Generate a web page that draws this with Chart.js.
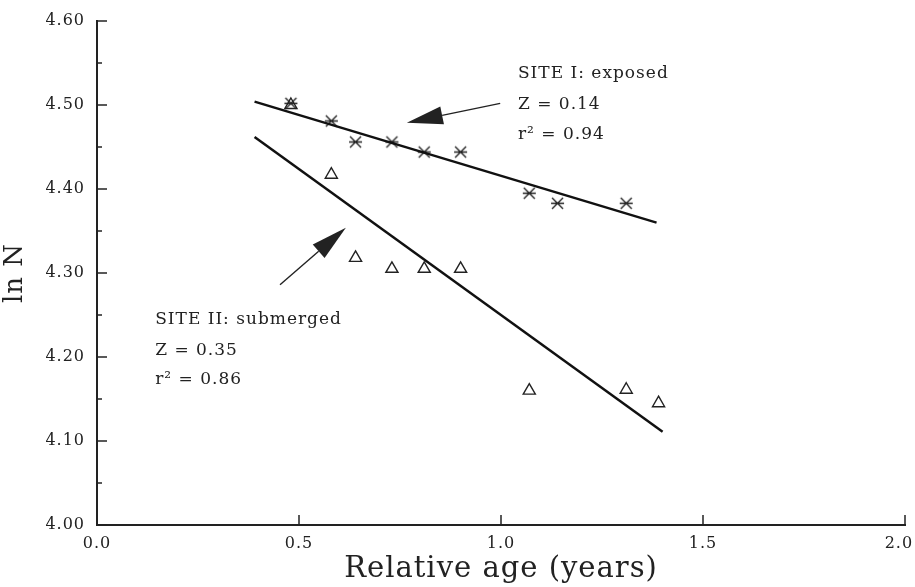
<!DOCTYPE html>
<html>
<head>
<meta charset="utf-8">
<script src="https://cdn.jsdelivr.net/npm/chart.js@4.4.1/dist/chart.umd.min.js"></script>
<style>
  html, body { margin: 0; padding: 0; background: #fff; }
  #wrap { width: 915px; height: 587px; }
</style>
</head>
<body>
<div id="wrap"><canvas id="chart"></canvas></div>
<script>
// values
const siteIx = [0.48, 0.58, 0.64, 0.73, 0.81, 0.90, 1.07, 1.14, 1.31];
const siteIy = [4.502, 4.481, 4.456, 4.456, 4.444, 4.444, 4.395, 4.383, 4.383];
const siteIIx = [0.48, 0.58, 0.64, 0.73, 0.81, 0.90, 1.07, 1.31, 1.39];
const siteIIy = [4.500, 4.417, 4.318, 4.305, 4.305, 4.305, 4.160, 4.161, 4.145];

// regression lines (end points)
const fitIx = [0.39, 1.385];
const fitIy = [4.504, 4.360];
const fitIIx = [0.39, 1.40];
const fitIIy = [4.462, 4.111];

const xTicks = [0.0, 0.5, 1.0, 1.5, 2.0];
const yTicks = [4.00, 4.10, 4.20, 4.30, 4.40, 4.50, 4.60];

const labelI = ["SITE I: exposed", "Z = 0.14", "r\u00b2 = 0.94"];
const labelII = ["SITE II: submerged", "Z = 0.35", "r\u00b2 = 0.86"];

const ink = "#222";

function toPoints(xs, ys) {
  return xs.map((x, i) => ({ x: x, y: ys[i] }));
}

// asterisk-like marker: an X with a horizontal bar
function makeStar() {
  const c = document.createElement("canvas");
  c.width = 15; c.height = 15;
  const g = c.getContext("2d");
  g.strokeStyle = "#222";
  g.lineWidth = 1.4;
  g.beginPath();
  g.moveTo(2, 2); g.lineTo(13, 13);
  g.moveTo(13, 2); g.lineTo(2, 13);
  g.moveTo(1, 7.5); g.lineTo(14, 7.5);
  g.stroke();
  return c;
}

function arrow(ctx, x1, y1, x2, y2, headLen, headW) {
  const ang = Math.atan2(y2 - y1, x2 - x1);
  const bx = x2 - headLen * Math.cos(ang);
  const by = y2 - headLen * Math.sin(ang);
  ctx.beginPath();
  ctx.moveTo(x1, y1);
  ctx.lineTo(bx, by);
  ctx.stroke();
  ctx.beginPath();
  ctx.moveTo(x2, y2);
  ctx.lineTo(bx + headW / 2 * Math.sin(ang), by - headW / 2 * Math.cos(ang));
  ctx.lineTo(bx - headW / 2 * Math.sin(ang), by + headW / 2 * Math.cos(ang));
  ctx.closePath();
  ctx.fill();
}

const spacing = {
  id: "spacing",
  beforeUpdate(chart) { chart.ctx.letterSpacing = "1px"; },
  beforeDraw(chart) { chart.ctx.letterSpacing = "1px"; }
};

const extras = {
  id: "extras",
  afterDraw(chart) {
    const ctx = chart.ctx;
    const xs = chart.scales.x, ys = chart.scales.y;
    const left = chart.chartArea.left, bottom = chart.chartArea.bottom;
    ctx.save();
    ctx.strokeStyle = ink;
    ctx.fillStyle = ink;
    ctx.lineWidth = 1.5;

    // inward ticks on y (major every 0.1, minor every 0.05)
    for (let k = 0; k <= 12; k++) {
      const py = ys.getPixelForValue(4 + k * 0.05);
      const len = k % 2 === 0 ? 10 : 5;
      ctx.beginPath();
      ctx.moveTo(left, py);
      ctx.lineTo(left + len, py);
      ctx.stroke();
    }
    // inward ticks on x
    xTicks.slice(1).forEach(v => {
      const px = xs.getPixelForValue(v);
      ctx.beginPath();
      ctx.moveTo(px, bottom);
      ctx.lineTo(px, bottom - 10);
      ctx.stroke();
    });

    // arrows
    ctx.lineWidth = 1.4;
    arrow(ctx, xs.getPixelForValue(0.998), ys.getPixelForValue(4.502),
      xs.getPixelForValue(0.767), ys.getPixelForValue(4.479), 36, 18);
    arrow(ctx, xs.getPixelForValue(0.453), ys.getPixelForValue(4.286),
      xs.getPixelForValue(0.616), ys.getPixelForValue(4.354), 36, 18);

    // annotation text
    ctx.letterSpacing = "1px";
    ctx.font = "17px 'DejaVu Serif'";
    ctx.textBaseline = "middle";
    ctx.textAlign = "left";
    const yI = [4.538, 4.500, 4.465];
    labelI.forEach((t, i) => {
      ctx.fillText(t, xs.getPixelForValue(1.042), ys.getPixelForValue(yI[i]));
    });
    const yII = [4.244, 4.208, 4.173];
    labelII.forEach((t, i) => {
      ctx.fillText(t, xs.getPixelForValue(0.144), ys.getPixelForValue(yII[i]));
    });
    ctx.restore();
  }
};

Chart.defaults.font.family = "'DejaVu Serif'";
Chart.defaults.color = ink;

const ctx = document.getElementById("chart").getContext("2d");

new Chart(ctx, {
  type: "scatter",
  data: {
    datasets: [
      {
        label: "Site I fit",
        type: "line",
        data: toPoints(fitIx, fitIy),
        borderColor: "#111",
        borderWidth: 2.5,
        pointRadius: 0,
        fill: false
      },
      {
        label: "Site II fit",
        type: "line",
        data: toPoints(fitIIx, fitIIy),
        borderColor: "#111",
        borderWidth: 2.5,
        pointRadius: 0,
        fill: false
      },
      {
        label: "Site I: exposed",
        data: toPoints(siteIx, siteIy),
        pointStyle: makeStar(),
        pointRadius: 7
      },
      {
        label: "Site II: submerged",
        data: toPoints(siteIIx, siteIIy),
        pointStyle: "triangle",
        pointRadius: 7,
        borderColor: "#222",
        borderWidth: 1.4,
        backgroundColor: "rgba(0,0,0,0)"
      }
    ]
  },
  options: {
    responsive: true,
    maintainAspectRatio: false,
    animation: false,
    layout: { padding: { top: 21, right: 10, left: 0, bottom: 0 } },
    plugins: {
      legend: { display: false },
      tooltip: { enabled: false }
    },
    scales: {
      x: {
        type: "linear",
        min: 0,
        max: 2,
        afterBuildTicks: s => { s.ticks = xTicks.map(v => ({ value: v })); },
        afterFit: s => { s.height = 62; s.paddingLeft = 0; s.paddingRight = 0; },
        grid: { display: false, drawTicks: false },
        border: { display: true, color: ink, width: 2 },
        ticks: {
          padding: 9,
          font: { size: 16 },
          maxRotation: 0,
          // trailing spaces nudge the last label back inside the canvas
          callback: v => v === 2 ? v.toFixed(1) + "  " : v.toFixed(1)
        },
        title: {
          display: true,
          text: "Relative age (years)",
          font: { size: 29 },
          padding: { top: 1, bottom: 0 }
        }
      },
      y: {
        type: "linear",
        min: 4.0,
        max: 4.6,
        afterBuildTicks: s => { s.ticks = yTicks.map(v => ({ value: v })); },
        afterFit: s => { s.width = 97; s.paddingTop = 0; s.paddingBottom = 0; },
        grid: { display: false, drawTicks: false },
        border: { display: true, color: ink, width: 2 },
        ticks: {
          padding: 12,
          font: { size: 16 },
          callback: v => v.toFixed(2)
        },
        title: {
          display: true,
          text: "ln N",
          font: { size: 26 },
          padding: { top: 0, bottom: 0 }
        }
      }
    }
  },
  plugins: [spacing, extras]
});
</script>
</body>
</html>
